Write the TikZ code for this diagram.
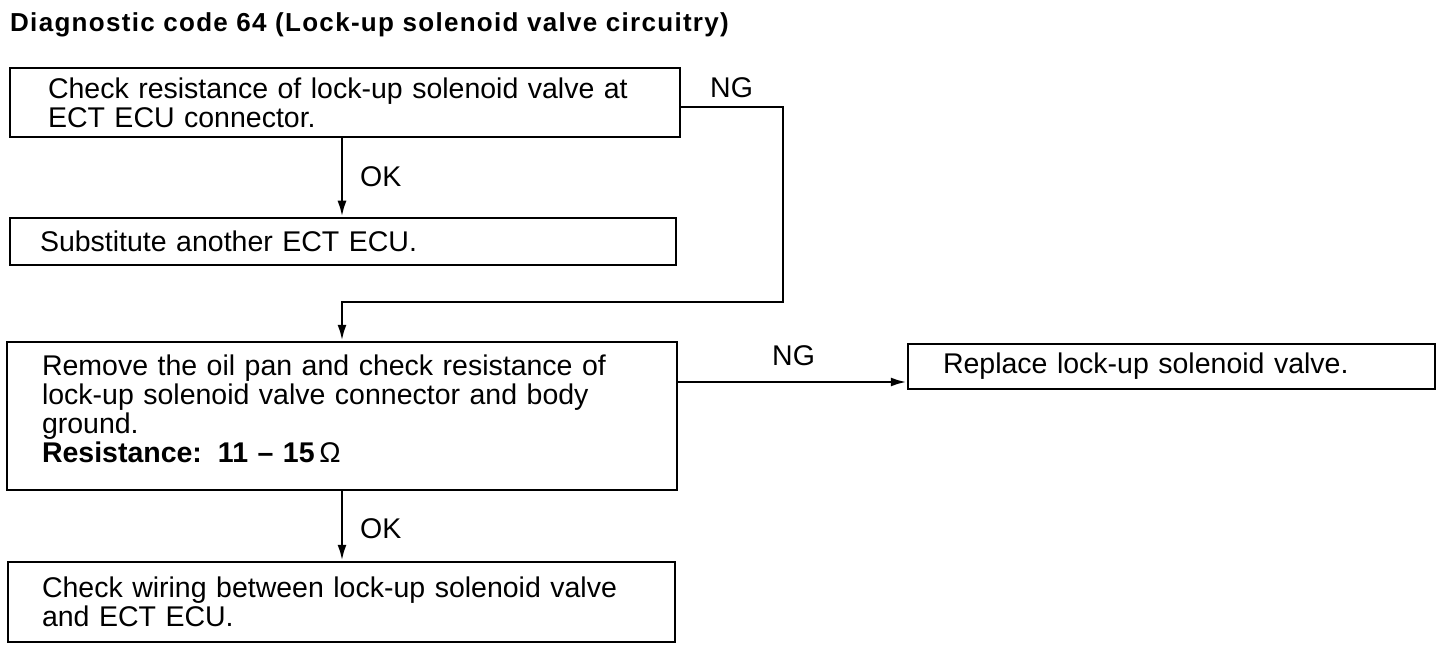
\documentclass[tikz,border=0pt]{standalone}
\usepackage{fontspec}
\setmainfont{Liberation Sans}
\newfontfamily\titlefont[LetterSpace=5]{Liberation Sans}
\usetikzlibrary{arrows.meta}
\begin{document}
\begin{tikzpicture}[x=1pt,y=-1pt,
  box/.style={draw,line width=2.5pt,rectangle,inner ysep=0pt,align=left,
    font=\fontsize{28.5}{29}\selectfont},
  arr/.style={line width=2.5pt,-{Latex[length=16pt,width=9pt]}},
  lbl/.style={font=\fontsize{28.5}{29}\selectfont,inner sep=0pt}]
\useasboundingbox (0,0) rectangle (1440,652);
\node[anchor=west,inner sep=0pt,font=\titlefont\bfseries\fontsize{26}{28}\selectfont] (title) at (10,25) {Diagnostic code 64 (Lock-up solenoid valve circuitry)};
\node[box,inner xsep=38pt,text width=594pt,minimum height=69pt] (b1) at (345,102.5)
  {Check resistance of lock-up solenoid valve at\\ECT ECU connector.};
\node[box,inner xsep=30pt,text width=606pt,minimum height=47pt] (b2) at (343,241.5)
  {Substitute another ECT ECU.};
\node[box,inner xsep=35pt,text width=600pt,minimum height=148pt] (b3) at (342,416)
  {Remove the oil pan and check resistance of\\lock-up solenoid valve connector and body\\ground.\\\textbf{Resistance:\hspace{16pt}11 \textendash\ 15\,}Ω\\[-15pt]\mbox{}};
\node[box,inner xsep=35pt,text width=457pt,minimum height=45pt] (b4) at (1171.5,366.5)
  {Replace lock-up solenoid valve.};
\node[box,inner xsep=34pt,text width=599pt,minimum height=80pt] (b5) at (341.5,602)
  {Check wiring between lock-up solenoid valve\\and ECT ECU.};
\coordinate (sp) at (342,0);
\coordinate (ng1) at (783,107);
\coordinate (ng2) at (783,302);
\draw[arr] (b1.south -| sp) -- (b2.north -| sp);
\draw[arr] (b1.east |- ng1) -- (ng1) -- (ng2) -| (b3.north -| sp);
\draw[arr] (b3.east |- 0,382) -- (b4.west |- 0,382);
\draw[arr] (b3.south -| sp) -- (b5.north -| sp);
\node[lbl,anchor=west] (ok1) at (360,177) {OK};
\node[lbl,anchor=west] (ng1l) at (710,88) {NG};
\node[lbl,anchor=west] (ng2l) at (772,356) {NG};
\node[lbl,anchor=west] (ok2) at (360,529) {OK};
\end{tikzpicture}
\end{document}
